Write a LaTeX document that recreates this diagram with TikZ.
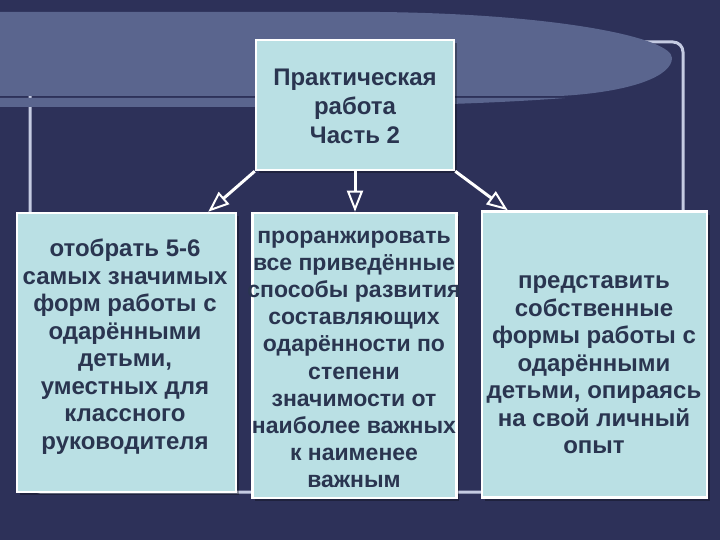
\documentclass[tikz,border=0pt]{standalone}
\usepackage{fontspec}
\setmainfont{Liberation Sans}
\usetikzlibrary{arrows.meta,calc}
\definecolor{bgnavy}{HTML}{2D3159}
\definecolor{ellcol}{HTML}{5A658E}
\definecolor{boxfill}{HTML}{BAE0E4}
\definecolor{txtcol}{HTML}{2A3550}
\definecolor{framecol}{HTML}{C5CBE2}
\tikzset{
  box/.style={draw=white, line width=2.5pt, fill=boxfill, inner sep=0pt},
  boxtext/.style={text=txtcol, font=\bfseries\fontsize{24}{27.5}\selectfont, align=center, inner sep=0pt},
  midtextstyle/.style={boxtext, font=\bfseries\fontsize{23}{27.2}\selectfont},
  toptextstyle/.style={boxtext, font=\bfseries\fontsize{24}{29}\selectfont},
  conn/.style={draw=white, line width=3pt, -{Triangle[open, length=21pt, width=16pt, line width=2pt]}},
  shadowbox/.style={fill=black, opacity=0.3, draw=none}
}
\begin{document}
\begin{tikzpicture}[x=1pt,y=-1pt]
\useasboundingbox (0,0) rectangle (720,540);
\fill[bgnavy] (0,0) rectangle (720,540);
% frame
\draw[framecol, line width=3pt, rounded corners=10pt] (30,42) rectangle (683,492);
% decorative ellipse shapes
\fill[ellcol] (-5,12) -- (380,12) .. controls (560,14) and (672,38) .. (672,58)
   .. controls (672,76) and (632,92) .. (560,96) -- (-5,96) -- cycle;
\fill[ellcol] (-5,98) -- (565,98) .. controls (500,103) and (400,107) .. (250,107) -- (-5,107) -- cycle;
% shadows
\fill[shadowbox] (20,216) rectangle (239,495);
\fill[shadowbox] (255,216) rectangle (459,501);
\fill[shadowbox] (485,215) rectangle (710,501);
\fill[shadowbox] (259,43) rectangle (457,173);
% boxes
\node[box, minimum width=198pt, minimum height=130pt] (top) at (355,105) {};
\node[box, minimum width=219pt, minimum height=279pt] (left) at (126.5,352.5) {};
\node[box, minimum width=204pt, minimum height=285pt] (mid) at (354.5,355.5) {};
\node[box, minimum width=225pt, minimum height=286pt] (right) at (594.5,354.5) {};
% texts
\node[toptextstyle] (toptext) at (355,106) {Практическая\\работа\\Часть 2};
\node[boxtext] (lefttext) at (125,346.5) {отобрать 5-6\\самых значимых\\форм работы с\\одарёнными\\детьми,\\уместных для\\классного\\руководителя};
\node[midtextstyle] (midtext) at (354,359.5) {проранжировать\\все приведённые\\способы развития\\составляющих\\одарённости по\\степени\\значимости от\\наиболее важных\\к наименее\\важным};
\node[boxtext] (righttext) at (594,365) {представить\\собственные\\формы работы с\\одарёнными\\детьми, опираясь\\на свой личный\\опыт};
% connectors
\draw[conn] (top.south west) -- ($(left.north east)+(-29,0)$);
\draw[conn] (top.south) -- (top.south |- mid.north);
\draw[conn] (top.south east) -- ($(right.north west)+(27,0)$);
\end{tikzpicture}
\end{document}
